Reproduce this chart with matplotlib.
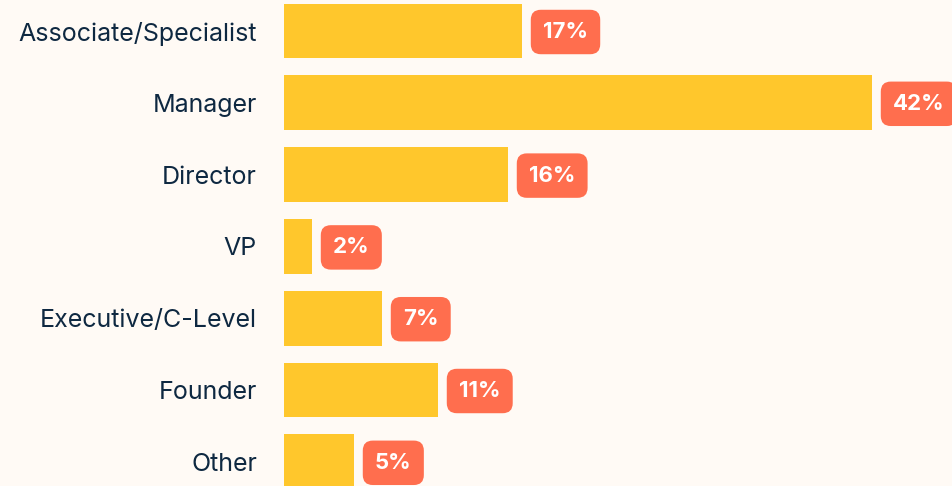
import matplotlib
matplotlib.use("Agg")
import matplotlib.pyplot as plt

# Data
roles = ["Associate/Specialist", "Manager", "Director", "VP",
         "Executive/C-Level", "Founder", "Other"]
shares = [17, 42, 16, 2, 7, 11, 5]

bg = "#FFFAF5"
bar_color = "#FFC72C"
tag_color = "#FF6E4E"
text_color = "#0E2841"

plt.rcParams["font.family"] = ["Inter", "DejaVu Sans"]

fig = plt.figure(figsize=(9.53, 4.86), dpi=100, facecolor=bg)
ax = fig.add_axes([284 / 953, 0, 669 / 953, 1], facecolor=bg)

ypos = list(range(len(roles)))
ax.barh(ypos, shares, height=0.766, color=bar_color, edgecolor="none")

for y, v in zip(ypos, shares):
    ax.annotate(f"{v}%", xy=(v, y), xytext=(21, -1), textcoords="offset pixels",
                ha="left", va="center", fontsize=16, fontweight="bold", color="white",
                bbox=dict(boxstyle="round,pad=0.55,rounding_size=0.45",
                          fc=tag_color, ec="none"))

ax.set_xlim(0, 669 / 14)
ax.set_ylim(455 / 71.8, -31 / 71.8)
ax.set_yticks(ypos)
ax.set_yticklabels(roles, fontsize=18, color=text_color)
ax.tick_params(axis="y", length=0, pad=19.5)
ax.set_xticks([])
for s in ax.spines.values():
    s.set_visible(False)

fig.savefig("out.png", dpi=100, facecolor=bg)
